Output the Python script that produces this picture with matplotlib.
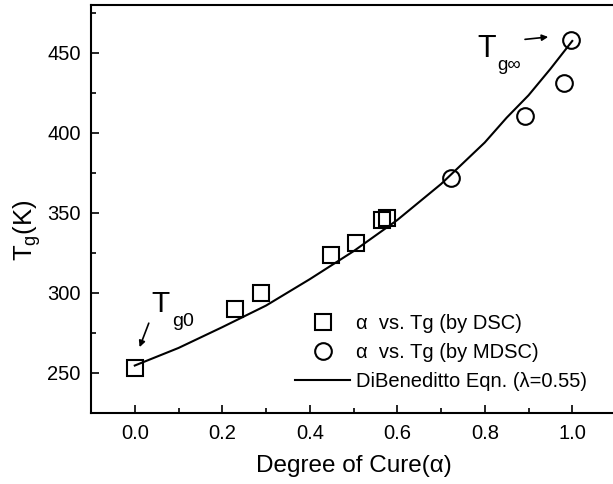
import matplotlib
matplotlib.use("Agg")
import matplotlib.pyplot as plt
from matplotlib.ticker import MultipleLocator

plt.rcParams["font.family"] = ["Liberation Sans", "DejaVu Sans"]
plt.rcParams["mathtext.fontset"] = "custom"
plt.rcParams["mathtext.rm"] = "Liberation Sans"
plt.rcParams["mathtext.it"] = "Liberation Sans:italic"
plt.rcParams["mathtext.bf"] = "Liberation Sans:bold"

# measured data (degree of cure vs Tg)
dsc_alpha = [0.0, 0.229, 0.288, 0.449, 0.506, 0.564, 0.577]
dsc_tg = [252.7, 289.6, 299.6, 323.5, 331.0, 345.4, 346.5]
mdsc_alpha = [0.722, 0.893, 0.981, 0.998]
mdsc_tg = [371.5, 410.8, 431.3, 458.3]

# DiBenedetto curve, points
fit_alpha = [0.0, 0.1, 0.2, 0.3, 0.4, 0.5, 0.6, 0.7, 0.8, 0.85, 0.9, 0.95, 1.0]
fit_tg = [254.5, 265.5, 278.5, 292.0, 308.5, 326.0, 345.5, 368.0, 394.0, 409.5, 423.5, 440.0, 457.5]

fig = plt.figure(figsize=(6.13, 4.84), dpi=100)
ax = fig.add_axes([0.1485, 0.1473, 0.8564, 0.8424])

ax.plot(fit_alpha, fit_tg, color="black", linewidth=1.5,
        label="DiBeneditto Eqn. (λ=0.55)")
ax.plot(dsc_alpha, dsc_tg, linestyle="none", marker="s", markersize=11.5,
        markerfacecolor="none", markeredgecolor="black", markeredgewidth=1.5,
        label="α  vs. Tg (by DSC)")
ax.plot(mdsc_alpha, mdsc_tg, linestyle="none", marker="o", markersize=12,
        markerfacecolor="none", markeredgecolor="black", markeredgewidth=1.5,
        label="α  vs. Tg (by MDSC)")

ax.set_xlim(-0.1, 1.1)
ax.set_ylim(225, 480)
ax.xaxis.set_major_locator(MultipleLocator(0.2))
ax.xaxis.set_minor_locator(MultipleLocator(0.1))
ax.yaxis.set_major_locator(MultipleLocator(50))
ax.yaxis.set_minor_locator(MultipleLocator(25))
ax.tick_params(which="both", direction="in", width=1.2, labelsize=14.5)
ax.tick_params(which="major", length=6)
ax.tick_params(which="minor", length=3.5)
ax.tick_params(axis="x", pad=8)
ax.tick_params(axis="y", pad=7.5)
for s in ax.spines.values():
    s.set_linewidth(1.5)

ax.set_xlabel("Degree of Cure(α)", fontsize=17.5, labelpad=9)
ax.set_ylabel(r"$\mathregular{T_g}$(K)", fontsize=18.5)
ax.yaxis.set_label_coords(-0.0914, 0.448)

# T_g0 label and arrow
ax.text(0.039, 288.1, "T", fontsize=21.5, ha="left", va="baseline")
ax.text(0.085, 279.2, "g0", fontsize=14, ha="left", va="baseline")
ax.annotate("", xy=(0.011, 266), xytext=(0.032, 281),
            arrowprops=dict(arrowstyle="-|>", color="black", lw=1.2,
                            mutation_scale=9, shrinkA=0, shrinkB=0))

# T_g-infinity label and arrow
ax.text(0.784, 447.3, "T", fontsize=22, ha="left", va="baseline")
ax.text(0.828, 439.5, "g∞", fontsize=13.5, ha="left", va="baseline")
ax.annotate("", xy=(0.945, 460), xytext=(0.892, 458.5),
            arrowprops=dict(arrowstyle="-|>", color="black", lw=1.2,
                            mutation_scale=9, shrinkA=0, shrinkB=0))

handles, labels = ax.get_legend_handles_labels()
order = [1, 2, 0]
ax.legend([handles[i] for i in order], [labels[i] for i in order],
          loc="upper left", bbox_to_anchor=(295 / 613, 1 - 314 / 484),
          bbox_transform=fig.transFigure, frameon=False, fontsize=14.5,
          borderpad=0, borderaxespad=0, handlelength=2.75,
          handletextpad=0.3, labelspacing=0.5)

fig.savefig("out.png", dpi=100)
plt.close(fig)
